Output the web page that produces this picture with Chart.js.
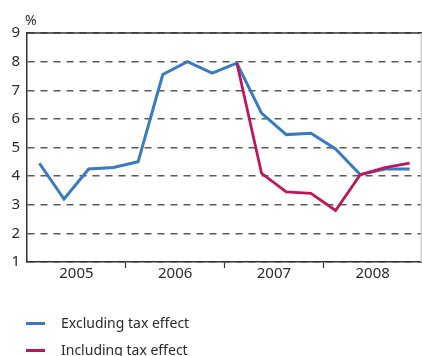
<!DOCTYPE html>
<html>
<head>
<meta charset="utf-8">
<script src="https://cdn.jsdelivr.net/npm/chart.js@4/dist/chart.umd.min.js"></script>
<style>
  html, body { margin: 0; padding: 0; background: #fff; }
  #wrap { position: relative; width: 422px; height: 356px; overflow: hidden; font-family: 'Noto Sans', sans-serif; color: #2b2b2b; }
  #chart { position: absolute; left: 0; top: 0; }
  #unit { position: absolute; left: 25px; top: 12px; font-size: 14px; line-height: 16px; }
  .key { position: absolute; left: 26px; font-size: 14px; line-height: 18px; white-space: nowrap; }
  .key i { display: inline-block; width: 19px; height: 3px; vertical-align: middle; margin-right: 16px; position: relative; top: -1px; }
</style>
</head>
<body>
<div id="wrap">
  <canvas id="chart" width="422" height="356"></canvas>
  <div id="unit">%</div>
  <div class="key" style="top:314px"><i style="background:#3a7abf"></i>Excluding tax effect</div>
  <div class="key" style="top:341px"><i style="background:#c0145c"></i>Including tax effect</div>
</div>
<script>
  'use strict';

  // Quarterly figures, 2005 Q1 – 2008 Q4
  const years = ['2005', '2006', '2007', '2008'];
  const quarters = ['Q1', 'Q2', 'Q3', 'Q4'];
  const excludingTax = [4.45, 3.2, 4.25, 4.3, 4.5, 7.55, 8.0, 7.6, 7.95, 6.2, 5.45, 5.5, 4.95, 4.05, 4.25, 4.25];
  const includingTax = [null, null, null, null, null, null, null, null, 7.95, 4.1, 3.45, 3.4, 2.8, 4.05, 4.3, 4.45];
  const yTicks = [1, 2, 3, 4, 5, 6, 7, 8, 9];

  const BLUE = '#3a7abf';
  const PINK = '#c0145c';
  const AXIS = '#333';
  const FONT = { family: "'Noto Sans', sans-serif", size: 15 };

  const nQ = years.length * quarters.length;

  // points sit in the middle of each quarter slot
  function toPoints(values) {
    return values.map((v, i) => ({ x: i + 0.5, y: v }));
  }

  // solid top edge at the max tick, pale right edge
  const frame = {
    id: 'frame',
    afterDraw(chart) {
      const { ctx, chartArea: a } = chart;
      ctx.save();
      ctx.lineWidth = 1.5;
      ctx.strokeStyle = AXIS;
      ctx.beginPath();
      ctx.moveTo(a.left, a.top);
      ctx.lineTo(a.right, a.top);
      ctx.stroke();
      ctx.lineWidth = 1.5;
      ctx.strokeStyle = '#d0d0d0';
      ctx.beginPath();
      ctx.moveTo(a.right - 0.75, a.top);
      ctx.lineTo(a.right - 0.75, a.bottom);
      ctx.stroke();
      ctx.restore();
    },
  };

  new Chart(document.getElementById('chart').getContext('2d'), {
    type: 'line',
    data: {
      datasets: [
        {
          label: 'Including tax effect',
          data: toPoints(includingTax),
          borderColor: PINK,
          borderWidth: 2.8,
          pointRadius: 0,
          tension: 0,
          order: 1,
        },
        {
          label: 'Excluding tax effect',
          data: toPoints(excludingTax),
          borderColor: BLUE,
          borderWidth: 3,
          pointRadius: 0,
          tension: 0,
          order: 2,
        },
      ],
    },
    options: {
      responsive: false,
      animation: false,
      layout: { padding: { top: 33, right: 0, left: 0, bottom: 70 } },
      plugins: { legend: { display: false }, tooltip: { enabled: false } },
      scales: {
        x: {
          type: 'linear',
          min: 0,
          max: nQ,
          afterBuildTicks: (s) => {
            // year boundaries get a tick mark, year middles get the label
            const t = [];
            for (let v = 0; v <= nQ; v += 2) t.push({ value: v });
            s.ticks = t;
          },
          afterFit: (s) => { s.height = 24; },
          grid: {
            drawOnChartArea: false,
            tickLength: 6,
            tickWidth: 1.2,
            tickColor: (c) => (c.tick && c.tick.value % 4 === 0 && c.tick.value > 0 && c.tick.value < nQ ? AXIS : 'rgba(0,0,0,0)'),
          },
          border: { color: AXIS, width: 1.5 },
          ticks: {
            color: '#2b2b2b',
            font: FONT,
            padding: -3,
            maxRotation: 0,
            autoSkip: false,
            callback: (v) => (v % 4 === 2 ? years[(v - 2) / 4] : ''),
          },
        },
        y: {
          min: yTicks[0],
          max: yTicks[yTicks.length - 1],
          afterBuildTicks: (s) => { s.ticks = yTicks.map((v) => ({ value: v })); },
          afterFit: (s) => { s.width = 27; },
          grid: { color: '#5a5a5a', lineWidth: 1.4, drawTicks: false },
          border: { color: AXIS, width: 1.5, dash: [7, 6] },
          ticks: { color: '#2b2b2b', font: FONT, padding: 7 },
        },
      },
    },
    plugins: [frame],
  });
</script>
</body>
</html>
